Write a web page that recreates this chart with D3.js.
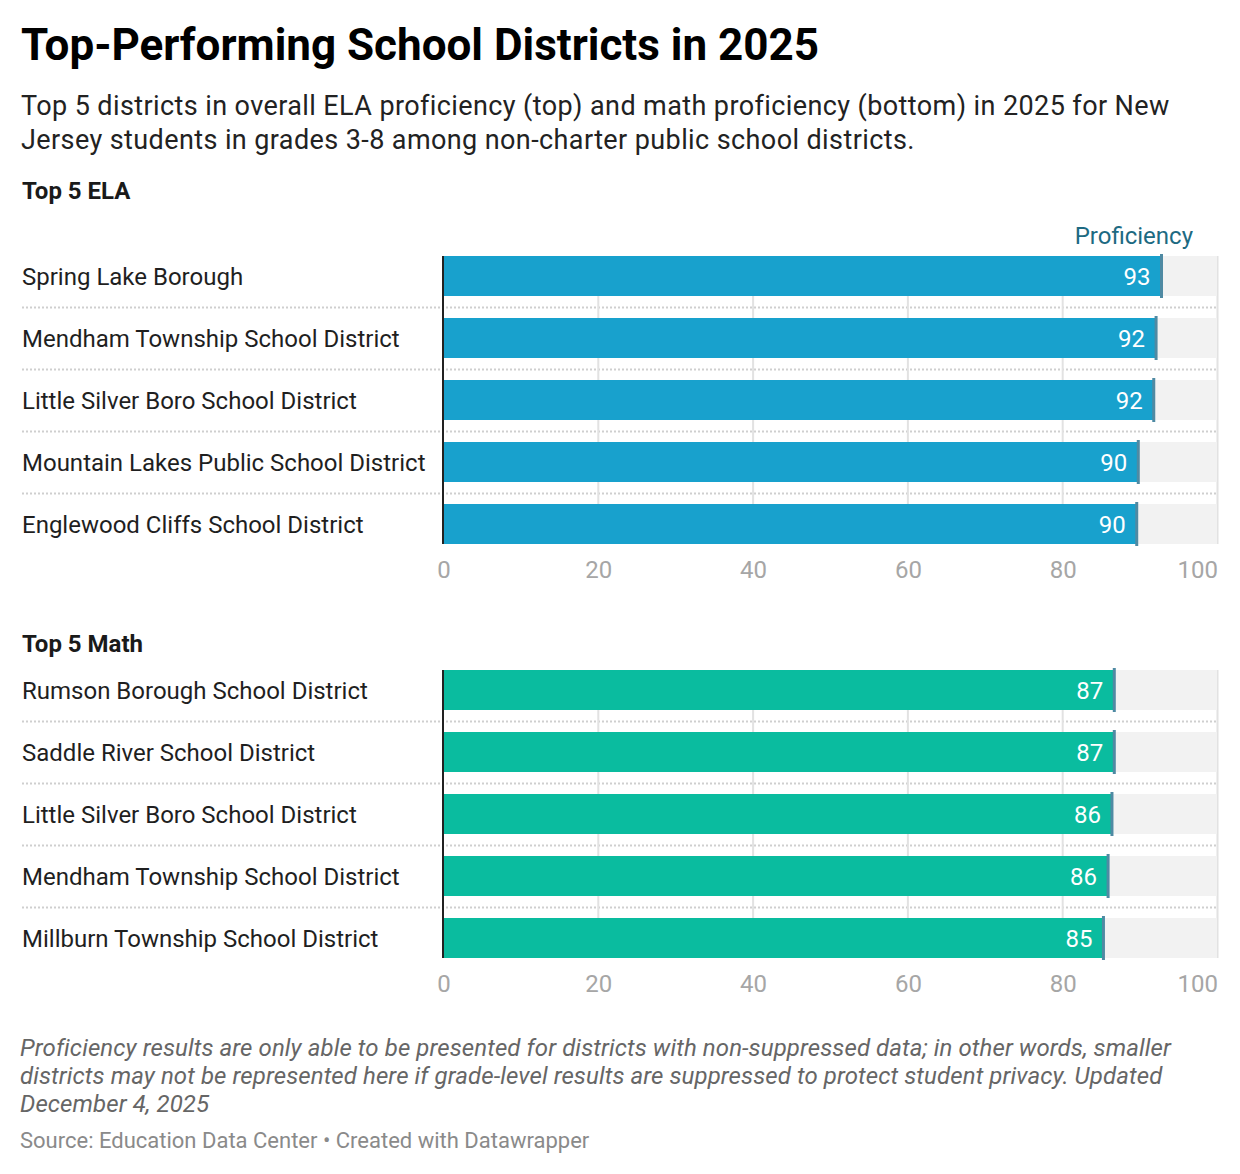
<!DOCTYPE html>
<html>
  <head>
    <meta charset="utf-8">
    <title>Top-Performing School Districts in 2025</title>
    <style>
      body { margin: 0; background: #fff; }
      svg text { font-family: Roboto, 'Noto Sans', sans-serif; }
    </style>
  </head>
  <body>
    <svg id='chart'></svg>
  </body>
  <script type="text/javascript" src="https://cdn.jsdelivr.net/npm/d3@7/dist/d3.min.js"></script>
  <script type="text/javascript">
    // data
    const elaDistricts = [
      'Spring Lake Borough',
      'Mendham Township School District',
      'Little Silver Boro School District',
      'Mountain Lakes Public School District',
      'Englewood Cliffs School District'
    ];
    const elaValues = [92.7, 92.0, 91.7, 89.7, 89.5];
    const mathDistricts = [
      'Rumson Borough School District',
      'Saddle River School District',
      'Little Silver Boro School District',
      'Mendham Township School District',
      'Millburn Township School District'
    ];
    const mathValues = [86.6, 86.6, 86.3, 85.8, 85.2];
    const tickValues = [0, 20, 40, 60, 80, 100];

    const [width, height] = [1240, 1174];
    const svg = d3.select('#chart')
      .attr('width', width)
      .attr('height', height);

    // header
    svg.append('text')
      .attr('x', 21).attr('y', 60)
      .attr('font-size', 44).attr('font-weight', 700)
      .attr('fill', '#000')
      .text('Top-Performing School Districts in 2025');

    const subtitle = [
      'Top 5 districts in overall ELA proficiency (top) and math proficiency (bottom) in 2025 for New',
      'Jersey students in grades 3-8 among non-charter public school districts.'
    ];
    svg.append('g').selectAll('text')
      .data(subtitle)
      .enter()
      .append('text')
      .attr('x', 21)
      .attr('y', (d, i) => 115 + i * 34)
      .attr('font-size', 27)
      .attr('letter-spacing', 0.4)
      .attr('fill', '#222')
      .text(d => d);

    const x = d3.scaleLinear().domain([0, 100]).range([444, 1218]);

    function drawPanel(top, title, names, values, color, showKey) {
      const g = svg.append('g');

      g.append('text')
        .attr('x', 22).attr('y', top - 57 + (showKey ? 0 : 39))
        .attr('font-size', 24).attr('font-weight', 700)
        .attr('fill', '#1a1a1a')
        .text(title);

      if (showKey) {
        g.append('text')
          .attr('x', 1193).attr('y', top - 12)
          .attr('text-anchor', 'end')
          .attr('font-size', 24)
          .attr('fill', '#1d6a82')
          .text('Proficiency');
      }

      const y = d3.scaleBand()
        .domain(names)
        .range([top, top + 5 * 62 - 22])
        .paddingInner(22 / 62)
        .paddingOuter(0);
      const bottom = top + 5 * 62 - 22;

      // dotted row separators
      g.append('g').selectAll('line')
        .data(names.slice(1))
        .enter()
        .append('line')
        .attr('x1', 22).attr('x2', 1218)
        .attr('y1', d => Math.round(y(d) - 11) + 0.5)
        .attr('y2', d => Math.round(y(d) - 11) + 0.5)
        .attr('stroke', '#cfcfcf')
        .attr('stroke-width', 2)
        .attr('stroke-dasharray', '2,2');

      // gridlines
      g.append('g').selectAll('line')
        .data(tickValues.slice(1))
        .enter()
        .append('line')
        .attr('x1', d => x(d) - 0.5).attr('x2', d => x(d) - 0.5)
        .attr('y1', top).attr('y2', bottom)
        .attr('stroke', '#e2e2e2')
        .attr('stroke-width', 2);

      const rows = g.append('g').selectAll('g')
        .data(names.map((n, i) => ({ name: n, value: values[i] })))
        .enter()
        .append('g');

      // track
      rows.append('rect')
        .attr('x', x(0)).attr('y', d => y(d.name))
        .attr('width', x(100) - x(0) - 1)
        .attr('height', y.bandwidth())
        .attr('fill', '#f2f2f2');

      rows.append('rect')
        .attr('x', x(0)).attr('y', d => y(d.name))
        .attr('width', d => x(d.value) - x(0))
        .attr('height', y.bandwidth())
        .attr('fill', color);

      // end marker
      rows.append('rect')
        .attr('x', d => x(d.value) - 1.5)
        .attr('y', d => y(d.name) - 2)
        .attr('width', 3)
        .attr('height', y.bandwidth() + 4)
        .attr('fill', '#4f8aa3');

      rows.append('text')
        .attr('x', d => x(d.value) - 11)
        .attr('y', d => y(d.name) + y.bandwidth() / 2)
        .attr('dy', '0.36em')
        .attr('text-anchor', 'end')
        .attr('font-size', 24)
        .attr('fill', '#fff')
        .text(d => Math.round(d.value));

      rows.append('text')
        .attr('x', 22)
        .attr('y', d => y(d.name) + y.bandwidth() / 2)
        .attr('dy', '0.36em')
        .attr('font-size', 24)
        .attr('fill', '#1f1f1f')
        .text(d => d.name);

      // baseline
      g.append('line')
        .attr('x1', x(0) - 1).attr('x2', x(0) - 1)
        .attr('y1', top).attr('y2', bottom)
        .attr('stroke', '#222')
        .attr('stroke-width', 2);

      // axis labels
      g.append('g').selectAll('text')
        .data(tickValues)
        .enter()
        .append('text')
        .attr('x', d => x(d))
        .attr('y', bottom + 34)
        .attr('text-anchor', d => d === 100 ? 'end' : 'middle')
        .attr('font-size', 24)
        .attr('fill', '#a6a6a6')
        .text(d => d);
    }

    drawPanel(256, 'Top 5 ELA', elaDistricts, elaValues, '#18a1cd', true);
    drawPanel(670, 'Top 5 Math', mathDistricts, mathValues, '#0abc9f', false);

    // notes
    const notes = [
      'Proficiency results are only able to be presented for districts with non-suppressed data; in other words, smaller',
      'districts may not be represented here if grade-level results are suppressed to protect student privacy. Updated',
      'December 4, 2025'
    ];
    svg.append('g').selectAll('text')
      .data(notes)
      .enter()
      .append('text')
      .attr('x', 20)
      .attr('y', (d, i) => 1056 + i * 28)
      .attr('font-size', 24)
      .attr('letter-spacing', 0.1)
      .attr('font-style', 'italic')
      .attr('fill', '#666')
      .text(d => d);

    svg.append('text')
      .attr('x', 20).attr('y', 1148)
      .attr('font-size', 22)
      .attr('fill', '#8a8a8a')
      .text('Source: Education Data Center \u2022 Created with Datawrapper');
  </script>
</html>
